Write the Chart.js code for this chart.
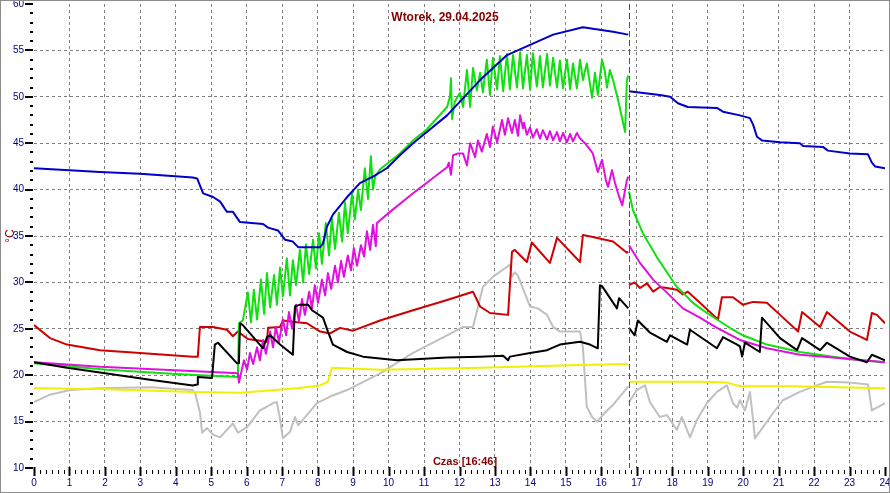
<!DOCTYPE html>
<html>
<head>
<meta charset="utf-8">
<script src="https://cdn.jsdelivr.net/npm/chart.js@4.4.1/dist/chart.umd.min.js"></script>
<style>
  html, body { margin: 0; padding: 0; background: #fff; }
  canvas { display: block; }
</style>
</head>
<body>
<canvas id="tempChart" width="890" height="493"></canvas>
<script>
// Temperatures over the day, [hour, °C]; null marks the cut at the current time
const blue = [[0,42.3],[1.86,41.9],[2.99,41.7],[4.48,41.3],[4.60,41.2],[4.77,39.6],[5.05,39.2],[5.25,38.7],[5.44,37.6],[5.61,37.6],[5.81,36.5],[6.46,36.3],[6.60,35.9],[6.88,35.6],[7.08,34.6],[7.30,34.4],[7.45,33.8],[8.07,33.8],[8.15,34.2],[8.26,36.0],[8.43,37.3],[8.83,39.2],[9.19,40.7],[9.56,41.4],[9.95,42.3],[10.32,43.7],[10.69,45.0],[11.65,48.0],[12.58,51.8],[13.34,54.5],[13.99,55.6],[14.64,56.7],[15.48,57.5],[16.33,57.0],[16.76,56.7],[16.77,null],[16.78,50.6],[17.65,50.2],[17.94,50.0],[18.16,49.3],[18.44,48.9],[19.26,48.8],[19.43,48.4],[19.91,48.0],[20.19,47.7],[20.28,47.0],[20.39,45.7],[20.53,45.3],[21.04,45.1],[21.60,45.0],[21.69,44.7],[22.25,44.6],[22.39,44.2],[23.01,43.9],[23.52,43.8],[23.63,42.9],[23.72,42.5],[24,42.3]];

const green = [[0,21.3],[2.06,20.6],[4.12,20.1],[5.75,19.8],[5.78,25.6],[5.89,25.9],[6.03,28.9],[6.12,25.7],[6.20,29.2],[6.29,26.0],[6.40,30.3],[6.49,26.6],[6.57,31.0],[6.66,27.3],[6.77,30.8],[6.85,27.6],[6.94,31.6],[7.02,28.5],[7.13,32.6],[7.22,28.6],[7.30,32.4],[7.39,29.7],[7.50,33.5],[7.59,30.0],[7.67,34.1],[7.76,30.9],[7.87,34.6],[7.95,31.5],[8.04,35.3],[8.12,32.0],[8.23,36.4],[8.32,32.9],[8.40,36.9],[8.49,33.6],[8.60,37.5],[8.69,34.4],[8.77,38.6],[8.85,35.3],[8.97,39.6],[9.05,36.8],[9.14,40.0],[9.22,37.8],[9.33,42.3],[9.42,39.0],[9.50,43.6],[9.56,40.0],[9.62,41.4],[9.76,42.2],[10.32,43.9],[10.69,45.3],[11.08,46.5],[11.65,48.9],[11.73,50.0],[11.76,52.0],[11.79,47.6],[11.87,49.5],[12.01,50.4],[12.10,48.9],[12.21,52.9],[12.30,48.9],[12.38,53.1],[12.49,50.7],[12.58,52.6],[12.66,50.5],[12.77,54.0],[12.86,50.2],[12.94,54.2],[13.06,50.8],[13.14,54.4],[13.23,50.6],[13.34,54.6],[13.42,50.8],[13.51,54.5],[13.62,51.0],[13.71,54.8],[13.79,50.9],[13.90,54.5],[13.99,50.8],[14.07,54.7],[14.18,51.1],[14.27,54.4],[14.35,51.0],[14.47,54.6],[14.55,51.2],[14.64,54.2],[14.75,51.0],[14.83,53.9],[14.92,50.9],[15.03,54.0],[15.12,50.8],[15.20,53.6],[15.31,50.9],[15.40,54.0],[15.48,51.8],[15.59,53.6],[15.74,49.9],[15.82,52.6],[15.90,50.2],[16.02,54.0],[16.10,52.7],[16.16,51.0],[16.24,52.9],[16.33,51.8],[16.47,49.7],[16.67,46.2],[16.72,51.8],[16.76,52.3],[16.77,null],[16.78,39.8],[16.89,37.8],[17.17,35.3],[17.37,34.0],[17.57,32.7],[17.85,31.1],[18.13,29.5],[18.30,28.9],[18.58,27.8],[18.98,26.7],[19.26,26.0],[19.71,24.9],[19.99,24.3],[20.67,23.3],[21.60,22.5],[22.53,22.0],[23.29,21.6],[24,21.4]];

const magenta = [[0,21.4],[1.86,20.9],[4.12,20.5],[5.75,20.2],[5.78,19.2],[5.92,21.6],[6.01,20.6],[6.09,22.4],[6.18,21.2],[6.29,23.0],[6.37,21.6],[6.46,23.8],[6.54,22.3],[6.66,24.7],[6.74,23.0],[6.82,25.2],[6.91,23.6],[7.02,26.0],[7.11,24.3],[7.19,26.8],[7.28,25.0],[7.39,27.6],[7.47,25.8],[7.56,28.2],[7.64,26.5],[7.76,29.0],[7.84,27.2],[7.92,29.7],[8.01,27.8],[8.12,30.3],[8.21,28.6],[8.29,31.0],[8.38,29.3],[8.49,31.8],[8.57,30.0],[8.66,32.3],[8.74,30.6],[8.85,32.9],[8.94,31.3],[9.02,33.7],[9.11,31.8],[9.22,34.0],[9.31,32.8],[9.39,35.5],[9.48,33.5],[9.56,36.2],[9.64,33.9],[9.67,36.4],[10.04,37.6],[10.69,39.6],[11.17,41.0],[11.65,42.4],[11.70,42.9],[11.76,41.6],[11.82,43.7],[11.96,43.9],[12.10,43.9],[12.21,42.6],[12.30,45.0],[12.44,43.5],[12.52,45.3],[12.63,44.1],[12.77,46.0],[12.86,44.6],[12.94,46.8],[13.06,45.1],[13.20,47.5],[13.28,45.9],[13.37,47.7],[13.48,46.1],[13.56,47.5],[13.65,45.8],[13.71,48.0],[13.79,46.6],[13.82,47.2],[13.90,45.9],[13.99,46.7],[14.07,45.6],[14.18,46.5],[14.27,45.5],[14.35,46.4],[14.47,45.4],[14.55,46.3],[14.64,45.3],[14.75,46.2],[14.83,45.2],[14.92,46.1],[15.03,45.1],[15.12,46.0],[15.20,45.2],[15.31,46.1],[15.40,45.5],[15.54,45.0],[15.68,44.3],[15.76,43.9],[15.90,41.9],[16.02,43.2],[16.13,41.0],[16.19,40.3],[16.30,42.1],[16.38,40.8],[16.47,39.6],[16.59,38.3],[16.72,41.0],[16.76,41.4],[16.77,null],[16.78,34.0],[17.09,32.1],[17.46,30.3],[17.85,28.9],[18.30,27.2],[18.78,26.2],[19.26,25.1],[19.91,23.8],[20.67,22.9],[21.60,22.2],[22.53,21.9],[24,21.4]];

const red = [[0,25.4],[0.45,24.0],[0.93,23.3],[1.86,22.7],[2.99,22.4],[4.48,22.0],[4.62,22.0],[4.68,25.2],[5.05,25.2],[5.44,24.9],[5.61,24.2],[5.75,24.7],[6.03,23.9],[6.57,23.6],[6.60,25.1],[6.94,25.2],[7.02,25.9],[7.42,25.7],[7.70,25.6],[8.07,24.7],[8.35,24.5],[8.63,25.1],[9.00,24.8],[9.76,25.9],[10.69,27.0],[11.65,28.1],[12.38,29.0],[12.58,27.4],[12.86,26.7],[13.37,26.5],[13.48,33.3],[13.56,33.5],[13.90,32.2],[14.04,34.3],[14.55,32.1],[14.75,34.8],[15.40,32.2],[15.48,35.1],[15.76,34.9],[16.33,34.4],[16.72,33.2],[16.76,33.3],[16.77,null],[16.78,29.7],[16.94,30.0],[17.09,29.4],[17.29,29.9],[17.46,29.0],[17.65,29.5],[17.85,29.4],[18.13,29.2],[18.30,28.7],[18.44,29.0],[18.78,27.8],[19.29,26.0],[19.40,28.4],[19.71,28.4],[19.99,27.6],[20.28,27.9],[20.67,27.8],[21.04,26.5],[21.55,24.7],[21.66,26.8],[22.17,25.2],[22.36,26.8],[23.01,24.7],[23.49,23.8],[23.63,26.7],[23.77,26.5],[24,25.6]];

const black = [[0,21.4],[0.93,20.8],[1.86,20.3],[3.27,19.5],[4.48,18.9],[4.60,19.0],[4.62,19.8],[5.02,19.7],[5.10,23.3],[5.19,23.5],[5.72,21.3],[5.78,21.3],[5.81,25.6],[5.89,25.4],[6.46,22.9],[6.57,24.1],[6.66,24.3],[6.94,23.3],[7.30,22.2],[7.36,27.4],[7.50,27.6],[7.73,27.6],[7.84,27.0],[8.15,26.2],[8.29,24.7],[8.43,23.3],[8.83,22.5],[9.28,22.0],[10.24,21.6],[11.65,21.9],[12.58,22.0],[13.23,22.1],[13.37,21.6],[13.42,22.0],[13.99,22.4],[14.47,22.7],[14.83,23.3],[15.40,23.6],[15.68,23.3],[15.90,22.9],[15.96,29.7],[16.02,29.6],[16.44,27.2],[16.50,28.3],[16.76,27.2],[16.77,null],[16.78,25.1],[16.94,24.3],[17.03,25.9],[17.37,24.6],[17.85,23.6],[17.94,24.3],[18.42,23.3],[18.50,24.9],[19.26,22.9],[19.43,24.1],[19.83,23.3],[19.91,23.1],[19.97,22.0],[20.05,23.5],[20.47,22.5],[20.53,26.2],[21.04,24.0],[21.52,22.7],[21.66,24.0],[22.17,22.7],[22.36,23.5],[23.01,22.0],[23.49,21.4],[23.63,22.2],[24,21.6]];

const gray = [[0,17.1],[0.45,17.9],[1.02,18.4],[1.86,18.6],[3.27,18.7],[4.48,18.4],[4.54,18.1],[4.68,16.0],[4.74,13.8],[4.88,14.3],[5.05,13.6],[5.25,13.3],[5.44,14.1],[5.61,14.8],[5.75,13.8],[6.01,14.4],[6.37,16.2],[6.57,16.6],[6.74,17.0],[6.85,17.1],[6.94,15.2],[7.02,13.2],[7.22,13.9],[7.36,15.5],[7.45,14.6],[7.98,17.0],[8.35,17.7],[8.83,18.4],[9.76,20.2],[10.69,22.4],[11.65,24.3],[12.10,25.2],[12.38,25.2],[12.66,29.5],[12.94,30.6],[13.42,31.9],[13.48,30.6],[13.56,31.1],[13.65,30.7],[13.99,27.4],[14.21,27.2],[14.47,26.5],[14.64,25.2],[14.83,24.7],[15.40,24.7],[15.48,23.0],[15.59,16.6],[15.74,15.5],[15.88,15.0],[16.02,15.6],[16.16,16.2],[16.33,16.8],[16.72,18.6],[16.76,18.8],[16.77,null],[16.78,17.1],[17.00,18.4],[17.23,18.9],[17.37,17.1],[17.65,15.5],[17.85,15.7],[18.13,14.1],[18.27,15.5],[18.50,13.3],[18.70,15.2],[18.98,17.0],[19.26,18.2],[19.54,18.9],[19.71,17.0],[19.83,16.5],[19.91,17.3],[20.05,16.2],[20.19,18.2],[20.28,15.2],[20.33,13.2],[20.56,14.4],[20.84,15.9],[21.12,17.3],[21.60,18.2],[22.08,18.9],[22.36,19.3],[23.01,19.2],[23.52,19.0],[23.63,16.2],[23.77,16.5],[24,17.0]];

const yellow = [[0,18.6],[1.86,18.5],[4.48,18.2],[5.81,18.1],[7.42,18.6],[8.07,18.9],[8.29,19.3],[8.40,20.8],[9.76,20.6],[12.58,20.8],[15.40,21.1],[16.76,21.2],[16.77,null],[16.78,19.3],[18.78,19.3],[19.54,19.2],[19.91,18.8],[21.40,18.8],[24,18.6]];

const titleText = 'Wtorek, 29.04.2025';
const xAxisText = 'Czas [16:46]';
const yAxisText = '°C';
const nowHour = 16 + 46 / 60;   // cursor line

const toPoints = arr => arr.map(p => ({ x: p[0], y: p[1] }));

// frame, tick marks, cursor and labels drawn on top of the chart
const decor = {
    id: 'decor',
    afterDraw(chart) {
        const { ctx, chartArea: a, scales: { x, y } } = chart;
        ctx.save();

        // y ticks: every degree, longer on multiples of 5
        ctx.strokeStyle = '#000';
        ctx.lineWidth = 2;
        for (let v = 10; v <= 60; v++) {
            const py = Math.round(y.getPixelForValue(v));
            ctx.beginPath();
            ctx.moveTo(v % 5 === 0 ? a.left - 9 : a.left - 4, py);
            ctx.lineTo(a.left - 1, py);
            ctx.stroke();
        }

        // x ticks: every 10 minutes
        for (let i = 0; i <= 144; i++) {
            const px = Math.round(x.getPixelForValue(i / 6)) + 0.5;
            const major = i % 6 === 0;
            ctx.lineWidth = major ? 2 : 1;
            ctx.beginPath();
            ctx.moveTo(px, major ? a.bottom - 1 : a.bottom + 2);
            ctx.lineTo(px, major ? a.bottom + 8 : a.bottom + 6);
            ctx.stroke();
        }

        // current time cursor
        const cx = Math.round(x.getPixelForValue(nowHour)) + 0.5;
        ctx.strokeStyle = '#008c00';
        ctx.lineWidth = 1;
        ctx.setLineDash([6, 3]);
        ctx.beginPath();
        ctx.moveTo(cx, a.top);
        ctx.lineTo(cx, a.bottom);
        ctx.stroke();
        ctx.setLineDash([]);

        // texts
        ctx.fillStyle = '#800000';
        ctx.font = 'bold 12px "Liberation Sans", Arial, sans-serif';
        ctx.textAlign = 'center';
        ctx.textBaseline = 'middle';
        ctx.fillText(titleText, 445, 18);
        ctx.font = 'bold 11px "Liberation Sans", Arial, sans-serif';
        ctx.fillText(xAxisText, 465, 462);
        ctx.save();
        ctx.translate(11, 236);
        ctx.rotate(-Math.PI / 2);
        ctx.font = '12px "Liberation Sans", Arial, sans-serif';
        ctx.fillText(yAxisText, 0, 0);
        ctx.restore();

        // window frame
        ctx.strokeStyle = '#8c8c8c';
        ctx.lineWidth = 1;
        ctx.strokeRect(0.5, 0.5, chart.width - 1, chart.height - 1);
        ctx.restore();
    }
};

const line = (data, color) => ({
    data: toPoints(data),
    borderColor: color,
    borderWidth: 2,
    borderJoinStyle: 'round',
    pointRadius: 0,
    tension: 0,
    spanGaps: false
});

const ctx = document.getElementById('tempChart').getContext('2d');

new Chart(ctx, {
    type: 'line',
    data: {
        datasets: [
            line(blue, '#0000c8'),
            line(black, '#000000'),
            line(magenta, '#e010e0'),
            line(green, '#10e010'),
            line(red, '#d00000'),
            line(yellow, '#f0f000'),
            line(gray, '#c0c0c0')
        ]
    },
    options: {
        responsive: false,
        animation: false,
        devicePixelRatio: 1,
        layout: { padding: { top: 4, right: 5, left: 0, bottom: 0 } },
        plugins: {
            legend: { display: false },
            tooltip: { enabled: false },
            title: { display: false }
        },
        scales: {
            x: {
                type: 'linear',
                min: 0,
                max: 24,
                afterFit: s => { s.height = 25; s.paddingLeft = 0; s.paddingRight = 0; },
                border: { display: false, dash: [3, 3] },
                grid: {
                    drawTicks: false,
                    color: c => (c.tick && (c.tick.value === 0 || c.tick.value === 24)) ? 'rgba(0,0,0,0)' : '#808080',
                    lineWidth: 1
                },
                ticks: {
                    stepSize: 1,
                    autoSkip: false,
                    maxRotation: 0,
                    padding: 9,
                    color: '#000080',
                    font: { family: '"Liberation Sans", Arial, sans-serif', size: 10 }
                }
            },
            y: {
                min: 10,
                max: 60,
                afterFit: s => { s.width = 34; s.paddingTop = 0; s.paddingBottom = 0; },
                border: { display: false, dash: [3, 3] },
                grid: {
                    drawTicks: false,
                    color: c => (c.tick && (c.tick.value === 10 || c.tick.value === 60)) ? 'rgba(0,0,0,0)' : '#808080',
                    lineWidth: 1
                },
                ticks: {
                    stepSize: 5,
                    autoSkip: false,
                    padding: 10,
                    color: '#000080',
                    font: { family: '"Liberation Sans", Arial, sans-serif', size: 10 }
                }
            }
        }
    },
    plugins: [decor]
});
</script>
</body>
</html>
